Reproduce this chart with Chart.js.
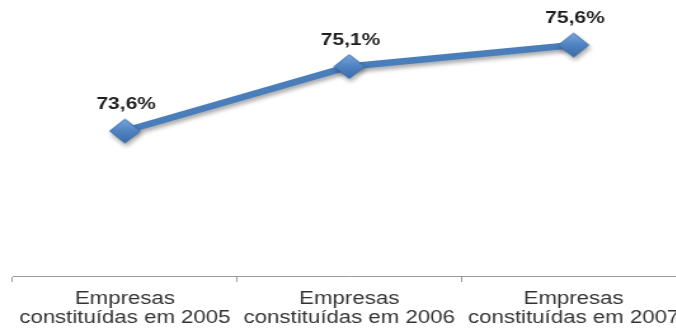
<!DOCTYPE html>
<html>
<head>
<meta charset="utf-8">
<script src="https://cdn.jsdelivr.net/npm/chart.js@4"></script>
<style>
  html, body { margin: 0; padding: 0; background: #fff; width: 676px; height: 329px; overflow: hidden; }
  #wrap { position: absolute; left: 0; top: 0; width: 552px; height: 329px; transform: scaleX(1.27); transform-origin: 0 0; }
  canvas { display: block; }
</style>
</head>
<body>
<div id="wrap"><canvas id="c" width="552" height="329"></canvas></div>
<script>
// ---- data ----
const categories = [
  ['Empresas', 'constituídas em 2005'],
  ['Empresas', 'constituídas em 2006'],
  ['Empresas', 'constituídas em 2007']
];
const values = [73.6, 75.1, 75.6];
const valueLabels = ['73,6%', '75,1%', '75,6%'];

// ---- diamond marker ----
function makeDiamond() {
  const s = 27;
  const c = document.createElement('canvas');
  c.width = s; c.height = s;
  const g = c.getContext('2d');
  const h = s / 2;
  g.beginPath();
  g.moveTo(h, 1.5); g.lineTo(s - 1.5, h); g.lineTo(h, s - 1.5); g.lineTo(1.5, h); g.closePath();
  const grad = g.createLinearGradient(0, 0, 0, s);
  grad.addColorStop(0, '#7eaae0');
  grad.addColorStop(0.5, '#4f83c2');
  grad.addColorStop(1, '#3a6aa6');
  g.fillStyle = grad;
  g.fill();
  g.lineWidth = 1;
  g.strokeStyle = '#3c6da8';
  g.stroke();
  return c;
}
const diamond = makeDiamond();

const shadowPlugin = {
  id: 'shadow',
  beforeDatasetsDraw(chart) {
    const ctx = chart.ctx;
    ctx.save();
    ctx.shadowColor = 'rgba(0,0,0,0.35)';
    ctx.shadowBlur = 4;
    ctx.shadowOffsetX = 1;
    ctx.shadowOffsetY = 3;
  },
  afterDatasetsDraw(chart) {
    chart.ctx.restore();
  }
};

const labelPlugin = {
  id: 'valueLabels',
  afterDatasetsDraw(chart) {
    const ctx = chart.ctx;
    const meta = chart.getDatasetMeta(0);
    ctx.save();
    ctx.font = 'bold 16.5px "Liberation Sans", Arial, sans-serif';
    ctx.fillStyle = '#1e1e1e';
    ctx.textAlign = 'center';
    ctx.textBaseline = 'alphabetic';
    meta.data.forEach((pt, i) => {
      ctx.fillText(valueLabels[i], pt.x + 1, pt.y - 22);
    });
    ctx.restore();
  }
};

new Chart(document.getElementById('c'), {
  type: 'line',
  data: {
    labels: categories,
    datasets: [{
      data: values,
      borderColor: '#4a7ebb',
      borderWidth: 6.5,
      pointStyle: diamond,
      pointRadius: 13,
      pointHoverRadius: 13,
      tension: 0,
      clip: false
    }]
  },
  options: {
    responsive: false,
    animation: false,
    events: [],
    layout: { autoPadding: false, padding: { left: 10, right: 12, top: 5, bottom: 0 } },
    plugins: { legend: { display: false }, tooltip: { enabled: false } },
    scales: {
      x: {
        offset: true,
        grid: { offset: true, drawOnChartArea: false, tickLength: 6, color: '#9a9a9a' },
        border: { color: '#9a9a9a', width: 1 },
        ticks: {
          color: '#333333',
          padding: 7,
          maxRotation: 0,
          autoSkip: false,
          font: { family: '"Liberation Sans", Arial, sans-serif', size: 17.5, lineHeight: 1.13 }
        },
        afterFit(scale) { scale.height = 53; }
      },
      y: {
        display: false,
        min: 70.23,
        max: 76.53
      }
    }
  },
  plugins: [shadowPlugin, labelPlugin]
});
</script>
</body>
</html>
